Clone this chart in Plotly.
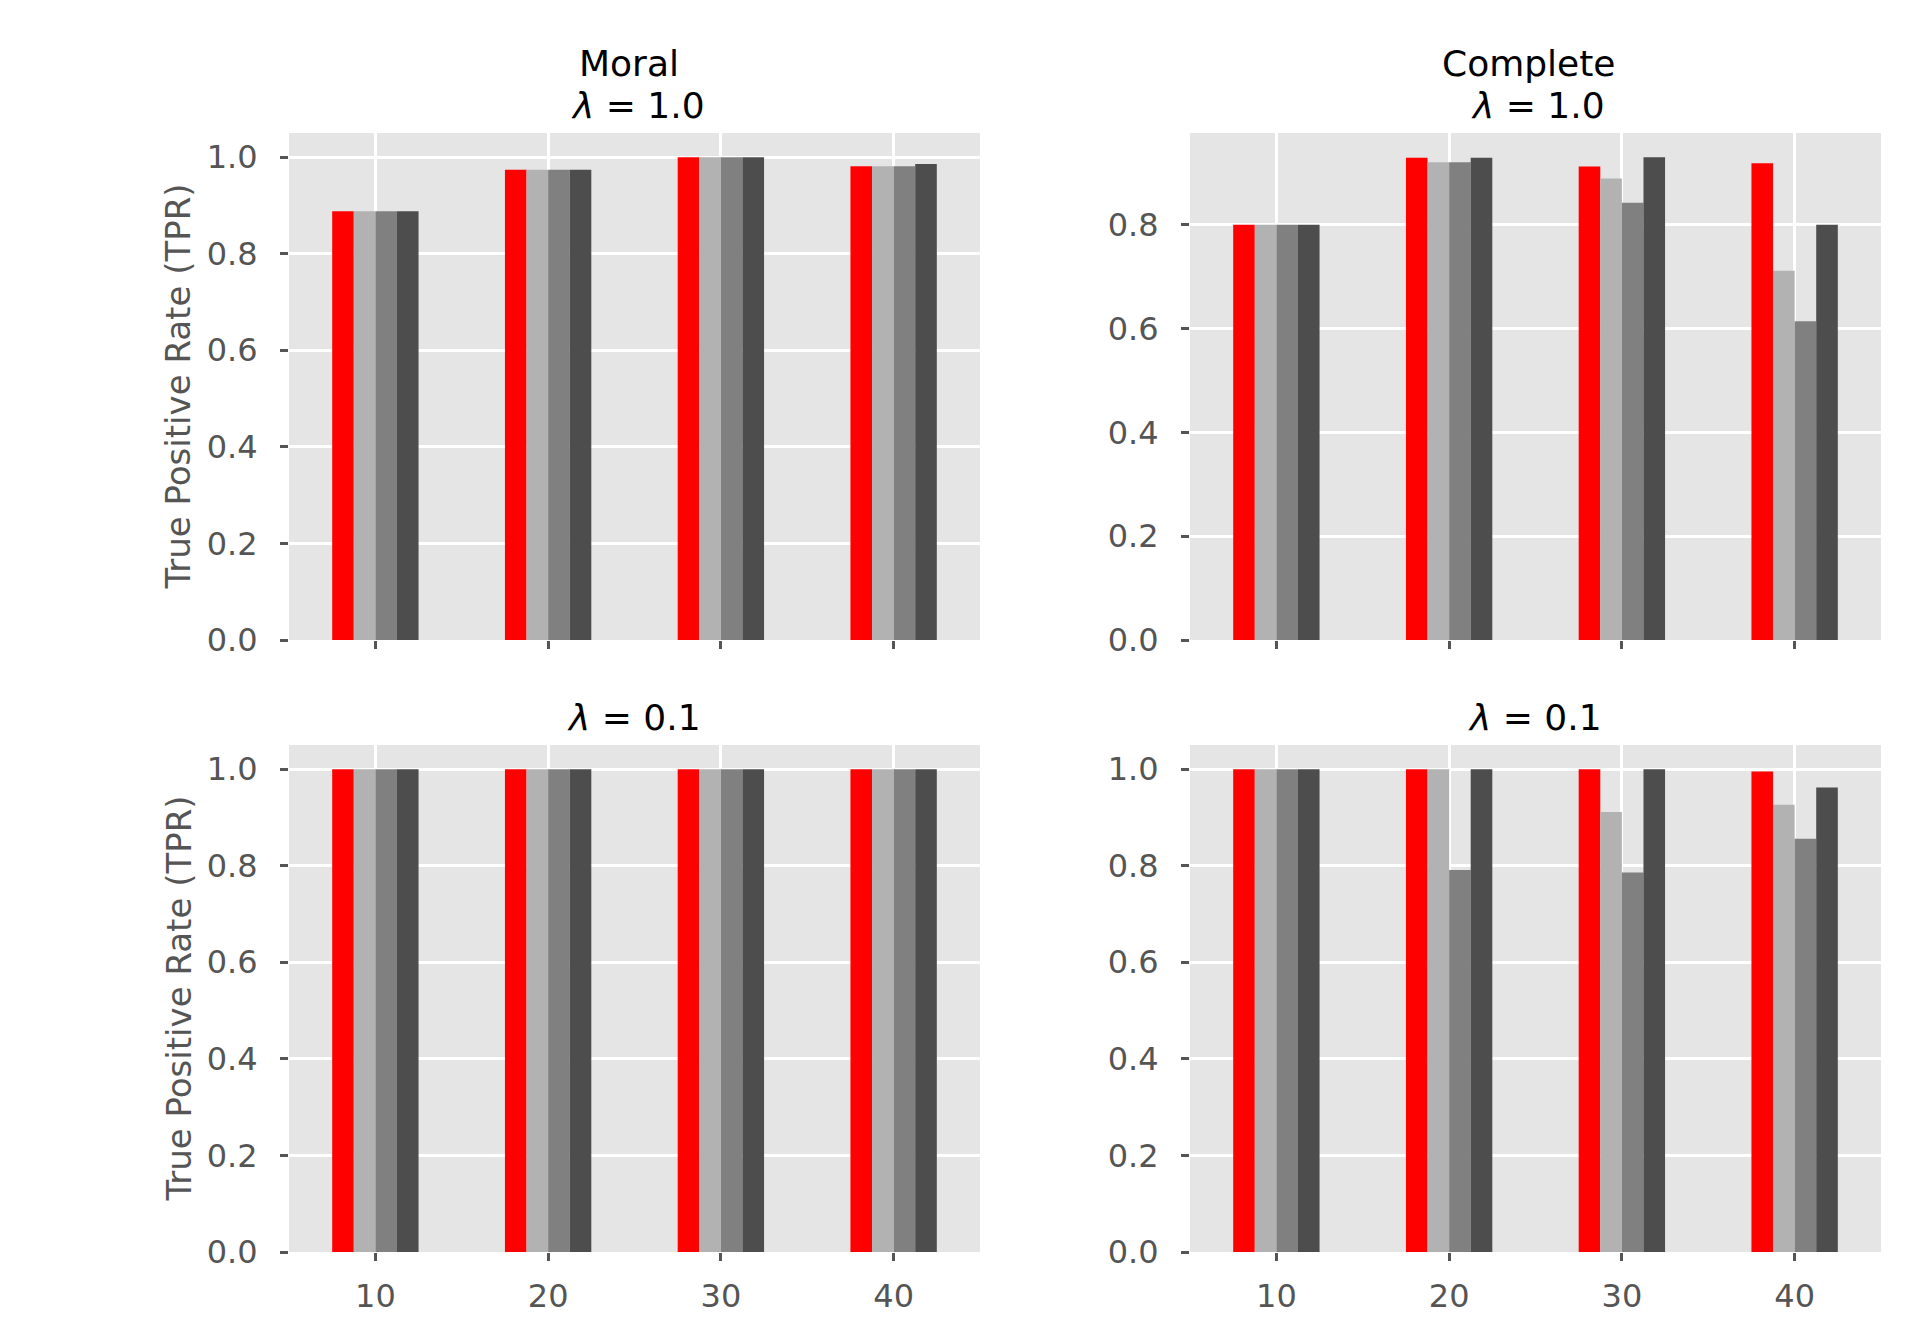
import plotly.graph_objects as go

# ---------------- data ----------------
x_labels = ["10", "20", "30", "40"]
x_pos = [0, 1, 2, 3]

# Moral, lambda = 1.0
moral_l10_s1 = [0.888, 0.974, 1.000, 0.981]
moral_l10_s2 = [0.888, 0.974, 1.000, 0.981]
moral_l10_s3 = [0.888, 0.974, 1.000, 0.981]
moral_l10_s4 = [0.888, 0.974, 1.000, 0.986]

# Complete, lambda = 1.0
complete_l10_s1 = [0.800, 0.929, 0.912, 0.918]
complete_l10_s2 = [0.800, 0.920, 0.889, 0.711]
complete_l10_s3 = [0.800, 0.920, 0.842, 0.614]
complete_l10_s4 = [0.800, 0.929, 0.930, 0.800]

# Moral, lambda = 0.1
moral_l01_s1 = [1.000, 1.000, 1.000, 1.000]
moral_l01_s2 = [1.000, 1.000, 1.000, 1.000]
moral_l01_s3 = [1.000, 1.000, 1.000, 1.000]
moral_l01_s4 = [1.000, 1.000, 1.000, 1.000]

# Complete, lambda = 0.1
complete_l01_s1 = [1.000, 1.000, 1.000, 0.995]
complete_l01_s2 = [1.000, 1.000, 0.911, 0.926]
complete_l01_s3 = [1.000, 0.791, 0.786, 0.856]
complete_l01_s4 = [1.000, 1.000, 1.000, 0.962]

series_names = ["Series 1", "Series 2", "Series 3", "Series 4"]
series_colors = ["#ff0000", "#b2b2b2", "#808080", "#4d4d4d"]

panels = [
    ("x", "y", [moral_l10_s1, moral_l10_s2, moral_l10_s3, moral_l10_s4]),
    ("x2", "y2", [complete_l10_s1, complete_l10_s2, complete_l10_s3, complete_l10_s4]),
    ("x3", "y3", [moral_l01_s1, moral_l01_s2, moral_l01_s3, moral_l01_s4]),
    ("x4", "y4", [complete_l01_s1, complete_l01_s2, complete_l01_s3, complete_l01_s4]),
]

W, H = 1920, 1320
FONT = "DejaVu Sans"
TICK_COLOR = "#555555"

fig = go.Figure()
for xa, ya, series in panels:
    for name, color, vals in zip(series_names, series_colors, series):
        fig.add_trace(go.Bar(
            x=x_pos, y=vals, name=name, xaxis=xa, yaxis=ya,
            marker=dict(color=color, line=dict(width=0)),
            showlegend=False,
        ))

# panel geometry in pixels (left, right, top, bottom)
geo = {
    "1": (289, 980, 133, 640),
    "2": (1190, 1881, 133, 640),
    "3": (289, 980, 745, 1252),
    "4": (1190, 1881, 745, 1252),
}

def xdom(k):
    l, r, t, b = geo[k]
    return [l / W, r / W]

def ydom(k):
    l, r, t, b = geo[k]
    return [1 - b / H, 1 - t / H]

def ymax(series):
    return max(max(s) for s in series) * 1.05

common_x = dict(
    range=[-0.5, 3.5], tickmode="array", tickvals=x_pos, ticktext=x_labels,
    showgrid=True, gridcolor="white", gridwidth=3, zeroline=False, showline=False,
    ticks="outside", ticklen=8, tickwidth=2.5, tickcolor=TICK_COLOR,
    tickfont=dict(family=FONT, size=32, color=TICK_COLOR),
    ticklabelstandoff=8, automargin=False,
)
common_y = dict(
    tickmode="linear", tick0=0, dtick=0.2, tickformat=".1f",
    showgrid=True, gridcolor="white", gridwidth=3, zeroline=False, showline=False,
    ticks="outside", ticklen=8, tickwidth=2.5, tickcolor=TICK_COLOR,
    tickfont=dict(family=FONT, size=32, color=TICK_COLOR),
    ticklabelstandoff=16, automargin=False,
)

layout = dict(
    width=W, height=H,
    margin=dict(l=0, r=0, t=0, b=0, autoexpand=False),
    paper_bgcolor="white", plot_bgcolor="#e5e5e5",
    barmode="group", bargap=0.5, bargroupgap=0.0,
    font=dict(family=FONT, color=TICK_COLOR),
)
axis_keys = ["", "2", "3", "4"]
for i, (k, (xa, ya, series)) in enumerate(zip(["1", "2", "3", "4"], panels)):
    suffix = axis_keys[i]
    xd = dict(common_x, domain=xdom(k), anchor=ya, showticklabels=(k in ("3", "4")))
    yd = dict(common_y, domain=ydom(k), anchor=xa, range=[0, ymax(series)])
    layout["xaxis" + suffix] = xd
    layout["yaxis" + suffix] = yd

fig.update_layout(**layout)

def px_ann(text, x, y, size, color="black", angle=0):
    fig.add_annotation(
        text=text, x=x / W, y=1 - y / H, xref="paper", yref="paper",
        xanchor="center", yanchor="middle", showarrow=False, textangle=angle,
        font=dict(family=FONT, size=size, color=color),
    )

# titles
px_ann("Moral", 629, 64, 36)
px_ann("<i>λ</i> = 1.0", 638, 105, 36)
px_ann("Complete", 1529, 64, 36)
px_ann("<i>λ</i> = 1.0", 1538, 105, 36)
px_ann("<i>λ</i> = 0.1", 634, 717, 36)
px_ann("<i>λ</i> = 0.1", 1535, 717, 36)

# y-axis labels
px_ann("True Positive Rate (TPR)", 178, (133 + 640) / 2, 34, TICK_COLOR, -90)
px_ann("True Positive Rate (TPR)", 178, (745 + 1252) / 2, 34, TICK_COLOR, -90)

fig.write_html("out.html")
